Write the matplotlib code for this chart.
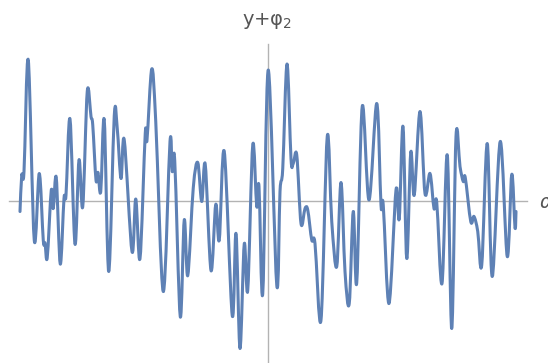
import matplotlib
matplotlib.use("Agg")
import matplotlib.pyplot as plt
from matplotlib.path import Path
from matplotlib.patches import PathPatch

alpha = [-9.92, -9.85, -9.76, -9.59, -9.35, -9.15, -8.99, -8.92, -8.83, -8.67,
         -8.59, -8.47, -8.31, -8.16, -8.08, -7.92, -7.72, -7.56, -7.41, -7.23,
         -7.08, -7.01, -6.88, -6.80, -6.69, -6.55, -6.37, -6.15, -6.03, -5.88,
         -5.75, -5.44, -5.29, -5.12, -4.91, -4.84, -4.65, -4.49, -4.19, -3.92,
         -3.83, -3.73, -3.51, -3.35, -3.21, -2.99, -2.81, -2.65, -2.51, -2.28,
         -2.09, -1.95, -1.75, -1.43, -1.28, -1.12, -0.95, -0.81, -0.61, -0.45,
         -0.36, -0.21, 0.01, 0.35, 0.48, 0.59, 0.76, 0.92, 1.01, 1.15,
         1.32, 1.48, 1.59, 1.75, 1.88, 2.12, 2.37, 2.55, 2.75, 2.92,
         3.08, 3.25, 3.41, 3.55, 3.77, 4.04, 4.35, 4.52, 4.61, 4.84,
         5.12, 5.25, 5.40, 5.55, 5.71, 5.85, 6.08, 6.28, 6.48, 6.64,
         6.75, 6.96, 7.17, 7.35, 7.52, 7.68, 7.81, 7.89, 8.11, 8.24,
         8.39, 8.55, 8.77, 8.97, 9.29, 9.57, 9.75, 9.88, 9.92]
value = [-0.21, 0.52, 0.59, 2.82, -0.78, 0.55, -0.78, -0.84, -1.13, 0.21,
         -0.15, 0.47, -1.26, 0.05, 0.12, 1.64, -0.86, 0.82, -0.11, 2.19,
         1.69, 1.52, 0.42, 0.57, 0.19, 1.62, -1.41, 1.70, 1.45, 0.45,
         1.22, -1.01, 0.04, -1.15, 1.35, 1.22, 2.64, 1.59, -1.81, 1.19,
         0.59, 0.80, -2.31, -0.38, -1.49, 0.26, 0.77, -0.01, 0.73, -1.39,
         -0.07, -0.78, 0.99, -2.29, -0.65, -2.95, -0.86, -1.78, 1.12, -0.11,
         0.29, -1.85, 2.62, -1.68, 0.19, 0.65, 2.74, 0.85, 0.75, 0.92,
         -0.45, -0.15, -0.18, -0.78, -0.85, -2.38, 1.29, -0.41, -1.31, 0.37,
         -1.41, -2.05, -0.21, -1.63, 1.89, 0.02, 1.95, -0.08, -0.08, -2.05,
         0.22, -0.35, 1.49, -1.15, 0.97, 0.12, 1.79, 0.15, 0.55, -0.15,
         -0.03, -1.65, 0.92, -2.55, 1.29, 0.69, 0.39, 0.47, -0.41, -0.31,
         -0.61, -1.28, 1.15, -1.51, 1.19, -1.11, 0.53, -0.53, -0.21]

x_label = "α"
y_label = "y+φ$_\\mathsf{2}$"

fig = plt.figure(figsize=(5.48, 3.63), dpi=100)
ax = fig.add_axes([0, 0, 1, 1])
ax.set_xlim(-10.72, 11.2)
ax.set_ylim(-3.24, 4.02)

# smooth rendering of the polyline through the read points (Catmull-Rom -> Bezier)
pts = list(zip(alpha, value))
n = len(pts)
verts = [pts[0]]
codes = [Path.MOVETO]
k = 1.0 / 6.0
for i in range(n - 1):
    p0 = pts[i - 1] if i > 0 else pts[i]
    p1 = pts[i]
    p2 = pts[i + 1]
    p3 = pts[i + 2] if i + 2 < n else pts[i + 1]
    c1 = (p1[0] + (p2[0] - p0[0]) * k, p1[1] + (p2[1] - p0[1]) * k)
    c2 = (p2[0] - (p3[0] - p1[0]) * k, p2[1] - (p3[1] - p1[1]) * k)
    verts += [c1, c2, p2]
    codes += [Path.CURVE4] * 3
ax.add_patch(PathPatch(Path(verts, codes), facecolor="none", edgecolor="#5E81B5",
                       lw=2.2, joinstyle="round", capstyle="round", zorder=3))

axis_color = "#b3b3b3"
for s in ["top", "right"]:
    ax.spines[s].set_visible(False)
ax.spines["left"].set_position(("data", 0))
ax.spines["bottom"].set_position(("data", 0))
ax.spines["left"].set_bounds(-3.24, 3.14)
ax.spines["bottom"].set_bounds(-10.36, 10.36)
for s in ["left", "bottom"]:
    ax.spines[s].set_color(axis_color)
    ax.spines[s].set_linewidth(1.0)
    ax.spines[s].set_zorder(2)
ax.set_xticks([])
ax.set_yticks([])
ax.patch.set_alpha(0)

ax.text(-0.05, 3.6, y_label, ha="center", va="center", fontsize=14,
        color="#555555", family="DejaVu Sans")
ax.text(10.84, -0.04, x_label, ha="left", va="center", fontsize=14,
        color="#555555", style="italic", clip_on=False)

fig.savefig("out.png", dpi=100, facecolor="white")
